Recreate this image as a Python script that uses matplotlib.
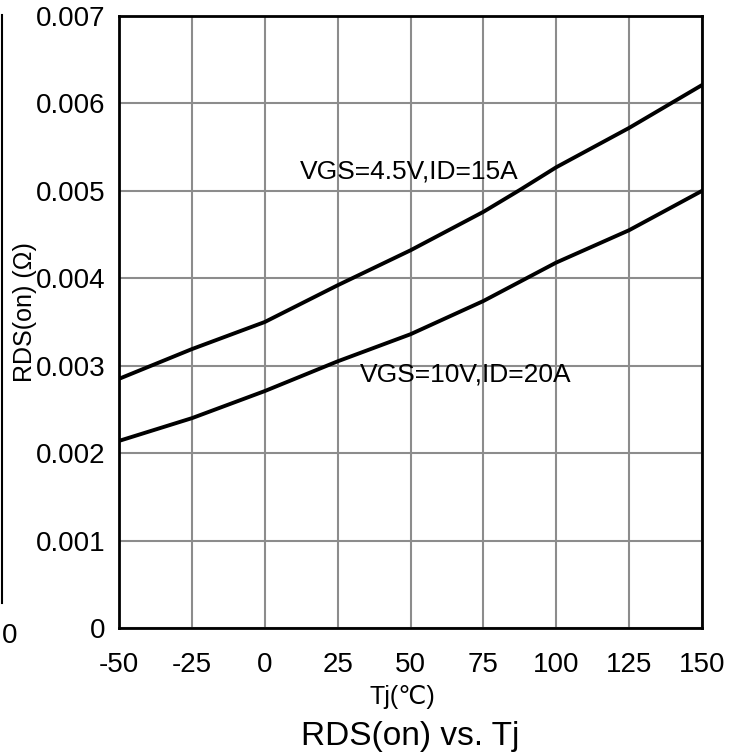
import matplotlib.pyplot as plt
from matplotlib.lines import Line2D

plt.rcParams['font.family'] = ['Liberation Sans', 'DejaVu Sans']

# junction temperature (C)
tj = [-50, -25, 0, 25, 50, 75, 87.5, 100, 125, 150]
# RDS(on) in ohm
rds_45v = [0.00285, 0.00319, 0.00350, 0.00392, 0.00432, 0.00476, 0.00501, 0.00527, 0.00572, 0.00621]
rds_10v = [0.00214, 0.00240, 0.00271, 0.00305, 0.00336, 0.00374, 0.00396, 0.00418, 0.00455, 0.00500]

label_45v = 'VGS=4.5V,ID=15A'
label_10v = 'VGS=10V,ID=20A'

xticks = [-50, -25, 0, 25, 50, 75, 100, 125, 150]
yticks = [0, 0.001, 0.002, 0.003, 0.004, 0.005, 0.006, 0.007]
ytick_labels = ['0', '0.001', '0.002', '0.003', '0.004', '0.005', '0.006', '0.007']

fig = plt.figure(figsize=(7.4, 7.54), dpi=100)
ax = fig.add_axes([119 / 740, 1 - 628 / 754, 583 / 740, 612 / 754])

ax.plot(tj, rds_45v, color='black', lw=2.8)
ax.plot(tj, rds_10v, color='black', lw=2.8)

ax.text(12.0, 0.00522, label_45v, fontsize=19, va='center', ha='left')
ax.text(32.5, 0.00290, label_10v, fontsize=19, va='center', ha='left')

ax.set_xlim(-50, 150)
ax.set_ylim(0, 0.007)
ax.set_xticks(xticks)
ax.set_xticklabels([str(t) for t in xticks])
ax.set_yticks(yticks)
ax.set_yticklabels(ytick_labels)
ax.tick_params(length=0, labelsize=20)
ax.tick_params(axis='x', pad=17)
ax.tick_params(axis='y', pad=10)
ax.grid(True, color='#8c8c8c', lw=1.5)
ax.set_axisbelow(True)
for sp in ax.spines.values():
    sp.set_linewidth(2)
    sp.set_color('black')

fig.text(402 / 740, 1 - 697 / 754, 'Tj(℃)', fontsize=18, ha='center', va='center')
fig.text(410 / 740, 1 - 737 / 754, 'RDS(on) vs. Tj', fontsize=24, ha='center', va='center')
fig.text(25 / 740, 1 - 312 / 754, 'RDS(on) (Ω)', fontsize=18, rotation=90, ha='center', va='center')

# edge of the neighbouring chart, cut off at the left
fig.add_artist(Line2D([2 / 740, 2 / 740], [1 - 603 / 754, 1 - 15 / 754],
                      color='black', lw=1.5, transform=fig.transFigure))
fig.text(2 / 740, 1 - 636 / 754, '0', fontsize=20, ha='left', va='center')

fig.savefig('out.png', dpi=100)
